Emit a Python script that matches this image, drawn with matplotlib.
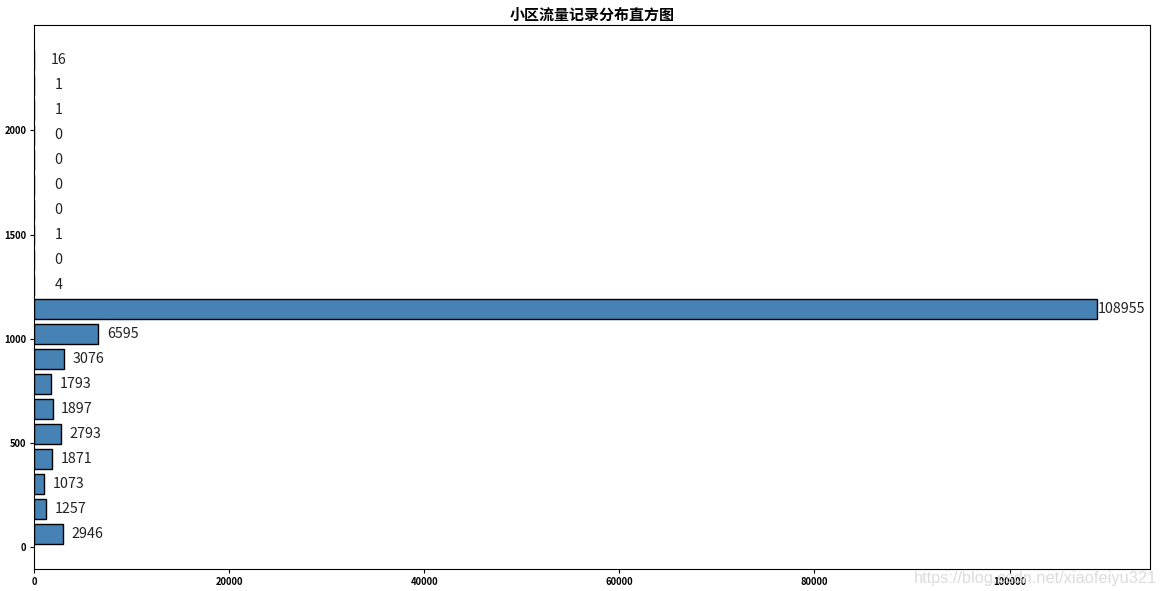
import matplotlib
matplotlib.use("Agg")
import matplotlib.pyplot as plt
import numpy as np

plt.rcParams['font.family'] = ['Noto Sans CJK SC', 'DejaVu Sans']

# Histogram: 20 bins of width 120 from 0 to 2400
bin_edges = np.linspace(0, 2400, 21)
counts = [2946, 1257, 1073, 1871, 2793, 1897, 1793, 3076, 6595, 108955,
          4, 0, 1, 0, 0, 0, 0, 1, 1, 16]
title = "小区流量记录分布直方图"
watermark = "https://blog.csdn.net/xiaofeiyu321"

fig = plt.figure(figsize=(11.60, 5.91), dpi=100)
ax = fig.add_axes([34/1160, 1 - 569/591, (1150-34)/1160, (569-25)/591])

centers = (bin_edges[:-1] + bin_edges[1:]) / 2
ax.hist(centers, bins=bin_edges, weights=counts, orientation='horizontal',
        rwidth=0.8, color='steelblue', edgecolor='black', linewidth=1.0)

for c, v in zip(centers, counts):
    ax.text(v + 2500, c, str(v), ha='center', va='center', fontsize=10.3,
            color='#222222', family=['Noto Sans CJK SC', 'DejaVu Sans'])

ax.set_title(title, fontsize=10.8, fontweight='bold', pad=4)
ax.set_yticks([0, 500, 1000, 1500, 2000])
ax.set_xticks([0, 20000, 40000, 60000, 80000, 100000])
ax.tick_params(labelsize=6.8, length=3, pad=2.5)
for lab in ax.get_xticklabels() + ax.get_yticklabels():
    lab.set_fontweight('heavy')

fig.text(1157/1160, 1 - 583/591, watermark, ha='right', va='baseline',
         fontsize=11.8, color='#dcdcdc', family=['Liberation Sans', 'DejaVu Sans'])

fig.savefig("out.png", dpi=100)
